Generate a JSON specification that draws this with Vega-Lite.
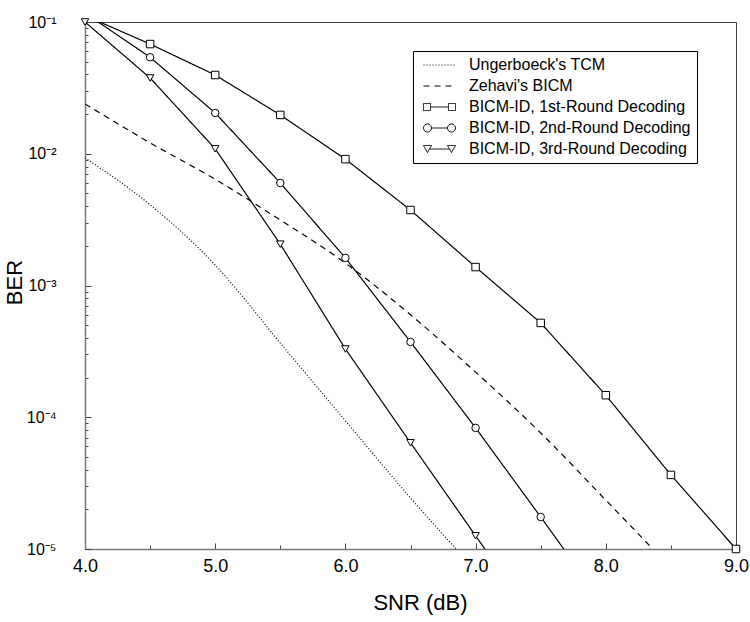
{
  "$schema": "https://vega.github.io/schema/vega-lite/v6.json",
  "width": 651,
  "height": 527,
  "autosize": {"type": "none"},
  "padding": {"left": 85, "top": 22, "right": 14, "bottom": 73},
  "background": "white",
  "config": {
    "font": "Liberation Sans",
    "view": {"stroke": "#444", "strokeWidth": 1}
  },
  "datasets": {
    "ber": [
      {"series": "Ungerboeck's TCM", "snr": 4.0, "ber": 0.0093},
      {"series": "Ungerboeck's TCM", "snr": 4.5, "ber": 0.0041},
      {"series": "Ungerboeck's TCM", "snr": 5.0, "ber": 0.00143},
      {"series": "Ungerboeck's TCM", "snr": 5.5, "ber": 0.000366},
      {"series": "Ungerboeck's TCM", "snr": 6.0, "ber": 0.000094},
      {"series": "Ungerboeck's TCM", "snr": 6.5, "ber": 0.0000244},
      {"series": "Ungerboeck's TCM", "snr": 7.0, "ber": 0.0000069},
      {"series": "Zehavi's BICM", "snr": 4.0, "ber": 0.0239},
      {"series": "Zehavi's BICM", "snr": 4.5, "ber": 0.0121},
      {"series": "Zehavi's BICM", "snr": 5.0, "ber": 0.0064},
      {"series": "Zehavi's BICM", "snr": 5.5, "ber": 0.00314},
      {"series": "Zehavi's BICM", "snr": 6.0, "ber": 0.00148},
      {"series": "Zehavi's BICM", "snr": 6.5, "ber": 0.0006},
      {"series": "Zehavi's BICM", "snr": 7.0, "ber": 0.00022},
      {"series": "Zehavi's BICM", "snr": 7.5, "ber": 0.000076},
      {"series": "Zehavi's BICM", "snr": 8.0, "ber": 0.0000235},
      {"series": "Zehavi's BICM", "snr": 8.5, "ber": 0.0000072},
      {"series": "BICM-ID, 1st-Round Decoding", "snr": 4.0, "ber": 0.112},
      {"series": "BICM-ID, 1st-Round Decoding", "snr": 4.5, "ber": 0.068},
      {"series": "BICM-ID, 1st-Round Decoding", "snr": 5.0, "ber": 0.0396},
      {"series": "BICM-ID, 1st-Round Decoding", "snr": 5.5, "ber": 0.0197},
      {"series": "BICM-ID, 1st-Round Decoding", "snr": 6.0, "ber": 0.0091},
      {"series": "BICM-ID, 1st-Round Decoding", "snr": 6.5, "ber": 0.00374},
      {"series": "BICM-ID, 1st-Round Decoding", "snr": 7.0, "ber": 0.00138},
      {"series": "BICM-ID, 1st-Round Decoding", "snr": 7.5, "ber": 0.00052},
      {"series": "BICM-ID, 1st-Round Decoding", "snr": 8.0, "ber": 0.000147},
      {"series": "BICM-ID, 1st-Round Decoding", "snr": 8.5, "ber": 0.0000365},
      {"series": "BICM-ID, 1st-Round Decoding", "snr": 9.0, "ber": 0.00001},
      {"series": "BICM-ID, 2nd-Round Decoding", "snr": 4.0, "ber": 0.117},
      {"series": "BICM-ID, 2nd-Round Decoding", "snr": 4.5, "ber": 0.054},
      {"series": "BICM-ID, 2nd-Round Decoding", "snr": 5.0, "ber": 0.0204},
      {"series": "BICM-ID, 2nd-Round Decoding", "snr": 5.5, "ber": 0.006},
      {"series": "BICM-ID, 2nd-Round Decoding", "snr": 6.0, "ber": 0.00162},
      {"series": "BICM-ID, 2nd-Round Decoding", "snr": 6.5, "ber": 0.000373},
      {"series": "BICM-ID, 2nd-Round Decoding", "snr": 7.0, "ber": 0.000083},
      {"series": "BICM-ID, 2nd-Round Decoding", "snr": 7.5, "ber": 0.0000175},
      {"series": "BICM-ID, 2nd-Round Decoding", "snr": 8.0, "ber": 0.0000036},
      {"series": "BICM-ID, 3rd-Round Decoding", "snr": 4.0, "ber": 0.1},
      {"series": "BICM-ID, 3rd-Round Decoding", "snr": 4.5, "ber": 0.0376},
      {"series": "BICM-ID, 3rd-Round Decoding", "snr": 5.0, "ber": 0.0109},
      {"series": "BICM-ID, 3rd-Round Decoding", "snr": 5.5, "ber": 0.00206},
      {"series": "BICM-ID, 3rd-Round Decoding", "snr": 6.0, "ber": 0.00033},
      {"series": "BICM-ID, 3rd-Round Decoding", "snr": 6.5, "ber": 0.000064},
      {"series": "BICM-ID, 3rd-Round Decoding", "snr": 7.0, "ber": 0.0000126},
      {"series": "BICM-ID, 3rd-Round Decoding", "snr": 7.5, "ber": 0.0000025}
    ]
  },
  "data": {"name": "ber"},
  "encoding": {
    "x": {
      "field": "snr",
      "type": "quantitative",
      "scale": {"domain": [4, 9], "nice": false, "zero": false},
      "axis": {
        "values": [4, 4.5, 5, 5.5, 6, 6.5, 7, 7.5, 8, 8.5, 9],
        "labelExpr": "datum.value % 1 === 0 ? format(datum.value, '.1f') : ''",
        "tickSize": {"condition": {"test": "datum.value % 1 === 0", "value": -6}, "value": -4},
        "tickColor": "#444",
        "grid": false,
        "domainColor": "#777",
        "domainWidth": 1.5,
        "labelFontSize": 18,
        "labelColor": "black",
        "labelPadding": 14,
        "labelFlush": false,
        "title": "SNR (dB)",
        "titleFontSize": 22,
        "titleFontWeight": "normal",
        "titleColor": "black",
        "titleX": 335,
        "titleY": 43,
        "titleBaseline": "top"
      }
    },
    "y": {
      "field": "ber",
      "type": "quantitative",
      "scale": {"type": "log", "domain": [0.00001, 0.1], "nice": false},
      "axis": {
        "values": [0.00001, 0.00002, 0.00003, 0.00004, 0.00005, 0.00006, 0.00007, 0.00008, 0.00009,
                   0.0001, 0.0002, 0.0003, 0.0004, 0.0005, 0.0006, 0.0007, 0.0008, 0.0009,
                   0.001, 0.002, 0.003, 0.004, 0.005, 0.006, 0.007, 0.008, 0.009,
                   0.01, 0.02, 0.03, 0.04, 0.05, 0.06, 0.07, 0.08, 0.09, 0.1],
        "labelExpr": "datum.value == 0.1 ? '10⁻¹' : datum.value == 0.01 ? '10⁻²' : datum.value == 0.001 ? '10⁻³' : datum.value == 0.0001 ? '10⁻⁴' : datum.value == 0.00001 ? '10⁻⁵' : ''",
        "tickSize": {"condition": {"test": "indexof([0.1, 0.01, 0.001, 0.0001, 0.00001], datum.value) >= 0", "value": -6}, "value": -3},
        "tickColor": "#444",
        "grid": false,
        "domainColor": "#777",
        "domainWidth": 1.5,
        "labelFontSize": 16,
        "labelColor": "black",
        "labelPadding": 35,
        "labelFlush": false,
        "labelBaseline": "middle",
        "title": "BER",
        "titleFontSize": 22,
        "titleFontWeight": "normal",
        "titleColor": "black",
        "titleX": -59,
        "titleY": 260,
        "titleAngle": -90,
        "titleAlign": "center",
        "titleBaseline": "bottom"
      }
    }
  },
  "layer": [
    {
      "transform": [
        {"filter": {"field": "series", "oneOf": ["Ungerboeck's TCM", "Zehavi's BICM"]}}
      ],
      "mark": {"type": "line", "clip": true, "color": "black", "strokeWidth": 1.2, "interpolate": "monotone"},
      "encoding": {
        "strokeDash": {
          "field": "series",
          "type": "nominal",
          "scale": {
            "domain": ["Ungerboeck's TCM", "Zehavi's BICM", "BICM-ID, 1st-Round Decoding", "BICM-ID, 2nd-Round Decoding", "BICM-ID, 3rd-Round Decoding"],
            "range": [[1, 2], [6, 5], [1, 0], [1, 0], [1, 0]]
          },
          "legend": {
            "title": null,
            "orient": "none",
            "legendX": 328,
            "legendY": 29,
            "strokeColor": "black",
            "fillColor": "white",
            "padding": 6,
            "symbolSize": 1024,
            "symbolStrokeWidth": 1,
            "symbolStrokeColor": "black",
            "symbolOffset": 4,
            "labelFontSize": 16,
            "labelColor": "black",
            "labelOffset": 13,
            "labelLimit": 400,
            "rowPadding": 5,
            "clipHeight": 16,
            "encode": {
              "symbols": {
                "update": {
                  "shape": {"signal": "datum.value === 'BICM-ID, 1st-Round Decoding' ? 'M-1,-0.22H-0.56V0.22H-1ZM-0.56,0H0.56M0.56,-0.22H1V0.22H0.56Z' : datum.value === 'BICM-ID, 2nd-Round Decoding' ? 'M-0.5,0A0.25,0.25,0,1,1,-1,0A0.25,0.25,0,1,1,-0.5,0ZM-0.5,0H0.5M1,0A0.25,0.25,0,1,1,0.5,0A0.25,0.25,0,1,1,1,0Z' : datum.value === 'BICM-ID, 3rd-Round Decoding' ? 'M-1,-0.22H-0.5L-0.75,0.22ZM-0.62,0H0.62M0.5,-0.22H1L0.75,0.22Z' : 'M-1,0H1'"},
                  "fill": {"value": "white"},
                  "stroke": {"value": "black"},
                  "strokeWidth": {"value": 1}
                }
              }
            }
          }
        }
      }
    },
    {
      "transform": [
        {"filter": {"field": "series", "oneOf": ["BICM-ID, 1st-Round Decoding", "BICM-ID, 2nd-Round Decoding", "BICM-ID, 3rd-Round Decoding"]}}
      ],
      "mark": {"type": "line", "clip": true, "color": "black", "strokeWidth": 1.2},
      "encoding": {
        "strokeDash": {
          "field": "series",
          "type": "nominal",
          "scale": {
            "domain": ["Ungerboeck's TCM", "Zehavi's BICM", "BICM-ID, 1st-Round Decoding", "BICM-ID, 2nd-Round Decoding", "BICM-ID, 3rd-Round Decoding"],
            "range": [[1, 2], [6, 5], [1, 0], [1, 0], [1, 0]]
          },
          "legend": {
            "title": null,
            "orient": "none",
            "legendX": 328,
            "legendY": 29,
            "strokeColor": "black",
            "fillColor": "white",
            "padding": 6,
            "symbolSize": 1024,
            "symbolStrokeWidth": 1,
            "symbolStrokeColor": "black",
            "symbolOffset": 4,
            "labelFontSize": 16,
            "labelColor": "black",
            "labelOffset": 13,
            "labelLimit": 400,
            "rowPadding": 5,
            "clipHeight": 16,
            "encode": {
              "symbols": {
                "update": {
                  "shape": {"signal": "datum.value === 'BICM-ID, 1st-Round Decoding' ? 'M-1,-0.22H-0.56V0.22H-1ZM-0.56,0H0.56M0.56,-0.22H1V0.22H0.56Z' : datum.value === 'BICM-ID, 2nd-Round Decoding' ? 'M-0.5,0A0.25,0.25,0,1,1,-1,0A0.25,0.25,0,1,1,-0.5,0ZM-0.5,0H0.5M1,0A0.25,0.25,0,1,1,0.5,0A0.25,0.25,0,1,1,1,0Z' : datum.value === 'BICM-ID, 3rd-Round Decoding' ? 'M-1,-0.22H-0.5L-0.75,0.22ZM-0.62,0H0.62M0.5,-0.22H1L0.75,0.22Z' : 'M-1,0H1'"},
                  "fill": {"value": "white"},
                  "stroke": {"value": "black"},
                  "strokeWidth": {"value": 1}
                }
              }
            }
          }
        }
      }
    },
    {
      "transform": [
        {"filter": {"field": "series", "oneOf": ["BICM-ID, 1st-Round Decoding", "BICM-ID, 2nd-Round Decoding", "BICM-ID, 3rd-Round Decoding"]}},
        {"filter": {"field": "ber", "range": [0.0000099, 0.1001]}}
      ],
      "mark": {"type": "point", "filled": true, "fill": "white", "stroke": "black", "strokeWidth": 1, "opacity": 1, "size": 56},
      "encoding": {
        "shape": {
          "field": "series",
          "type": "nominal",
          "scale": {
            "domain": ["BICM-ID, 1st-Round Decoding", "BICM-ID, 2nd-Round Decoding", "BICM-ID, 3rd-Round Decoding"],
            "range": ["square", "circle", "triangle-down"]
          },
          "legend": null
        }
      }
    }
  ]
}
